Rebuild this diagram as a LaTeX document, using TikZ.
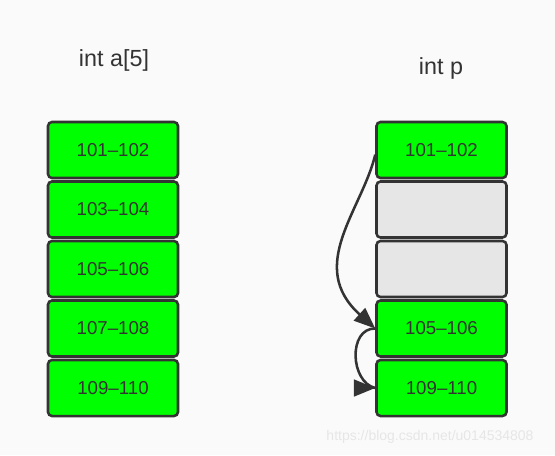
\documentclass[tikz,border=0pt]{standalone}
\usepackage{fontspec}
\setmainfont{Liberation Sans}
\usepackage{xcolor}
\usetikzlibrary{positioning}
\usetikzlibrary{arrows.meta}
\definecolor{cellgreen}{HTML}{00FF00}
\definecolor{cellgray}{HTML}{E6E6E6}
\definecolor{edge}{HTML}{333333}
\definecolor{paper}{HTML}{FAFAFA}
\definecolor{mark}{HTML}{E6E6E6}
\tikzset{
  cell/.style={draw=edge,line width=1.9pt,rounded corners=3pt,fill=cellgreen,
    minimum width=97.5pt,minimum height=42pt,inner sep=0pt,text=edge,
    font=\fontsize{14}{16}\selectfont},
  emptycell/.style={cell,fill=cellgray},
  title/.style={text=edge,font=\fontsize{17.5}{20}\selectfont},
  link/.style={draw=edge,line width=1.9pt},
  jump/.style={link,-{Triangle[length=16pt,width=12.5pt]}},
}
\begin{document}
\begin{tikzpicture}[x=0.75pt,y=-0.75pt]
            \fill[paper] (0,0) rectangle (555,455);  % 背景
            \useasboundingbox (0,0) rectangle (555,455);
            \node[title] (alabel) at (114,60) {int a[5]};
            \node[title] (plabel) at (441,68) {int p};
            % 数组 a
            \node[cell] (a1) at (113,150) {101--102};
            \node[cell] (a2) at (113,209.5) {103--104};
            \node[cell] (a3) at (113,269) {105--106};
            \node[cell] (a4) at (113,328.5) {107--108};
            \node[cell] (a5) at (113,388) {109--110};
            % 指针 p
            \node[cell] (p1) at (441.5,150) {101--102};
            \node[emptycell] (p2) at (441.5,209.5) {};
            \node[emptycell] (p3) at (441.5,269) {};
            \node[cell] (p4) at (441.5,328.5) {105--106};
            \node[cell] (p5) at (441.5,388) {109--110};
            \draw[jump] ([yshift=-3.5pt]p1.west) .. controls (362,210) and (306,266) .. (p4.west);
            \draw[link] (p4.west) .. controls (348,328) and (350,382) .. (p5.west);
            \draw[jump] (p5.west) ++(-1,0) -- (p5.west);  % 箭头
            \node[text=mark,font=\fontsize{10.5}{12}\selectfont] (wm) at (430,437) {https://blog.csdn.net/u014534808};
        \end{tikzpicture}
\end{document}
